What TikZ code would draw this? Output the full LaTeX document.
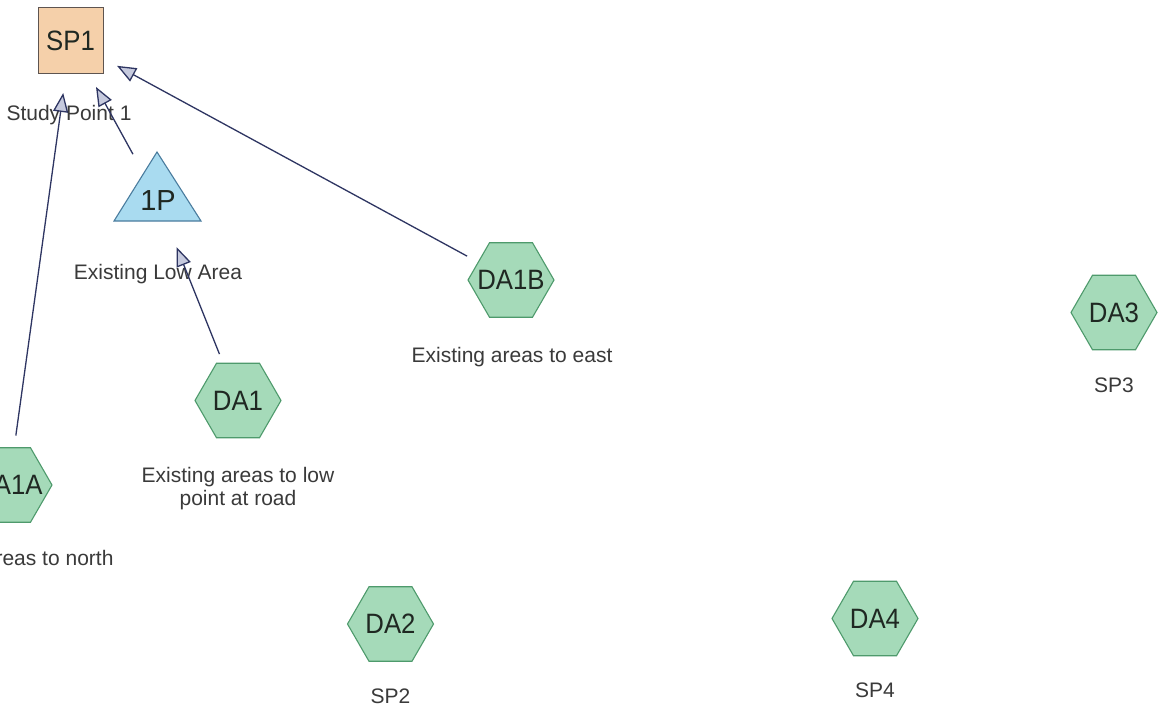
\documentclass[tikz,border=0pt]{standalone}
\usepackage{fontspec}
\setmainfont{Liberation Sans}
\newfontfamily\tagfont{Liberation Sans}[FakeStretch=0.92]
\usetikzlibrary{shapes.geometric,arrows.meta}

\definecolor{spfill}{HTML}{F5D0AA}
\definecolor{spdraw}{HTML}{5E5450}
\definecolor{trifill}{HTML}{A9DBF0}
\definecolor{tridraw}{HTML}{4A7C9E}
\definecolor{hexfill}{HTML}{A5DAB9}
\definecolor{hexdraw}{HTML}{4E9A6C}
\definecolor{linkcol}{HTML}{2E3562}
\definecolor{headfill}{HTML}{C6CADE}
\definecolor{txt}{HTML}{3A3A3A}
\definecolor{dark}{HTML}{1F2822}

\tikzset{
  spbox/.style={draw=spdraw, fill=spfill, line width=0.9pt, minimum width=65pt,
    minimum height=66pt, inner sep=0pt, text=dark,
    font=\tagfont\fontsize{28}{32}\selectfont},
  hexnode/.style={regular polygon, regular polygon sides=6, minimum size=86pt,
    inner sep=0pt, draw=hexdraw, fill=hexfill, line width=1.1pt,
    label={[text=dark, font=\tagfont\fontsize{28}{32}\selectfont]center:#1}},
  tripath/.style={draw=tridraw, fill=trifill, line width=1.1pt, line join=miter},
  anchorpt/.style={inner sep=0pt, minimum size=0pt},
  caption/.style={anchor=base, text=txt, align=center, inner sep=0pt,
    font=\fontsize{21}{23}\selectfont},
  link/.style={draw=linkcol, line width=1.3pt, shorten <=50pt, shorten >=53pt,
    -{Triangle[length=19pt, width=15pt, fill=headfill]}},
}

\begin{document}
\begin{tikzpicture}[x=1pt, y=-1pt]
\useasboundingbox (0,0) rectangle (1159,715);
\fill[white] (0,0) rectangle (1159,715);
\clip (0,0) rectangle (1159,715);

% study point
\node[spbox] (SP1) at (70.5,40.5) {SP1};
\node[caption] (lSP1) at (69,120) {Study Point 1};

% low point triangle
\filldraw[tripath] (114,221) -- (157,152) -- (201,221) -- cycle;
\node[anchorpt] (P1) at (157,198) {};
\node[text=dark, font=\fontsize{29}{32}\selectfont, inner sep=0pt] (tP1) at (158,201) {1P};
\node[caption] (lP1) at (158,279) {Existing Low Area};

% drainage areas
\node[hexnode=DA1A] (DA1A) at (9,485) {};
\node[caption] (lDA1A) at (9,565) {Existing areas to north};

\node[hexnode=DA1] (DA1) at (238,400.5) {};
\node[caption] (lDA1) at (238,505) {Existing areas to low\\point at road};

\node[hexnode=DA1B] (DA1B) at (511,280) {};
\node[caption] (lDA1B) at (512,362) {Existing areas to east};

\node[hexnode=DA3] (DA3) at (1114,312.5) {};
\node[caption] (lDA3) at (1114,392) {SP3};

\node[hexnode=DA2] (DA2) at (390.5,624) {};
\node[caption] (lDA2) at (390.5,703) {SP2};

\node[hexnode=DA4] (DA4) at (875,618.5) {};
\node[caption] (lDA4) at (875,697) {SP4};

% links
\draw[link] (DA1A.center) -- (SP1.center);
\draw[link] (P1.center) -- (SP1.center);
\draw[link] (DA1B.center) -- (SP1.center);
\draw[link] (DA1.center) -- (P1.center);
\end{tikzpicture}
\end{document}
